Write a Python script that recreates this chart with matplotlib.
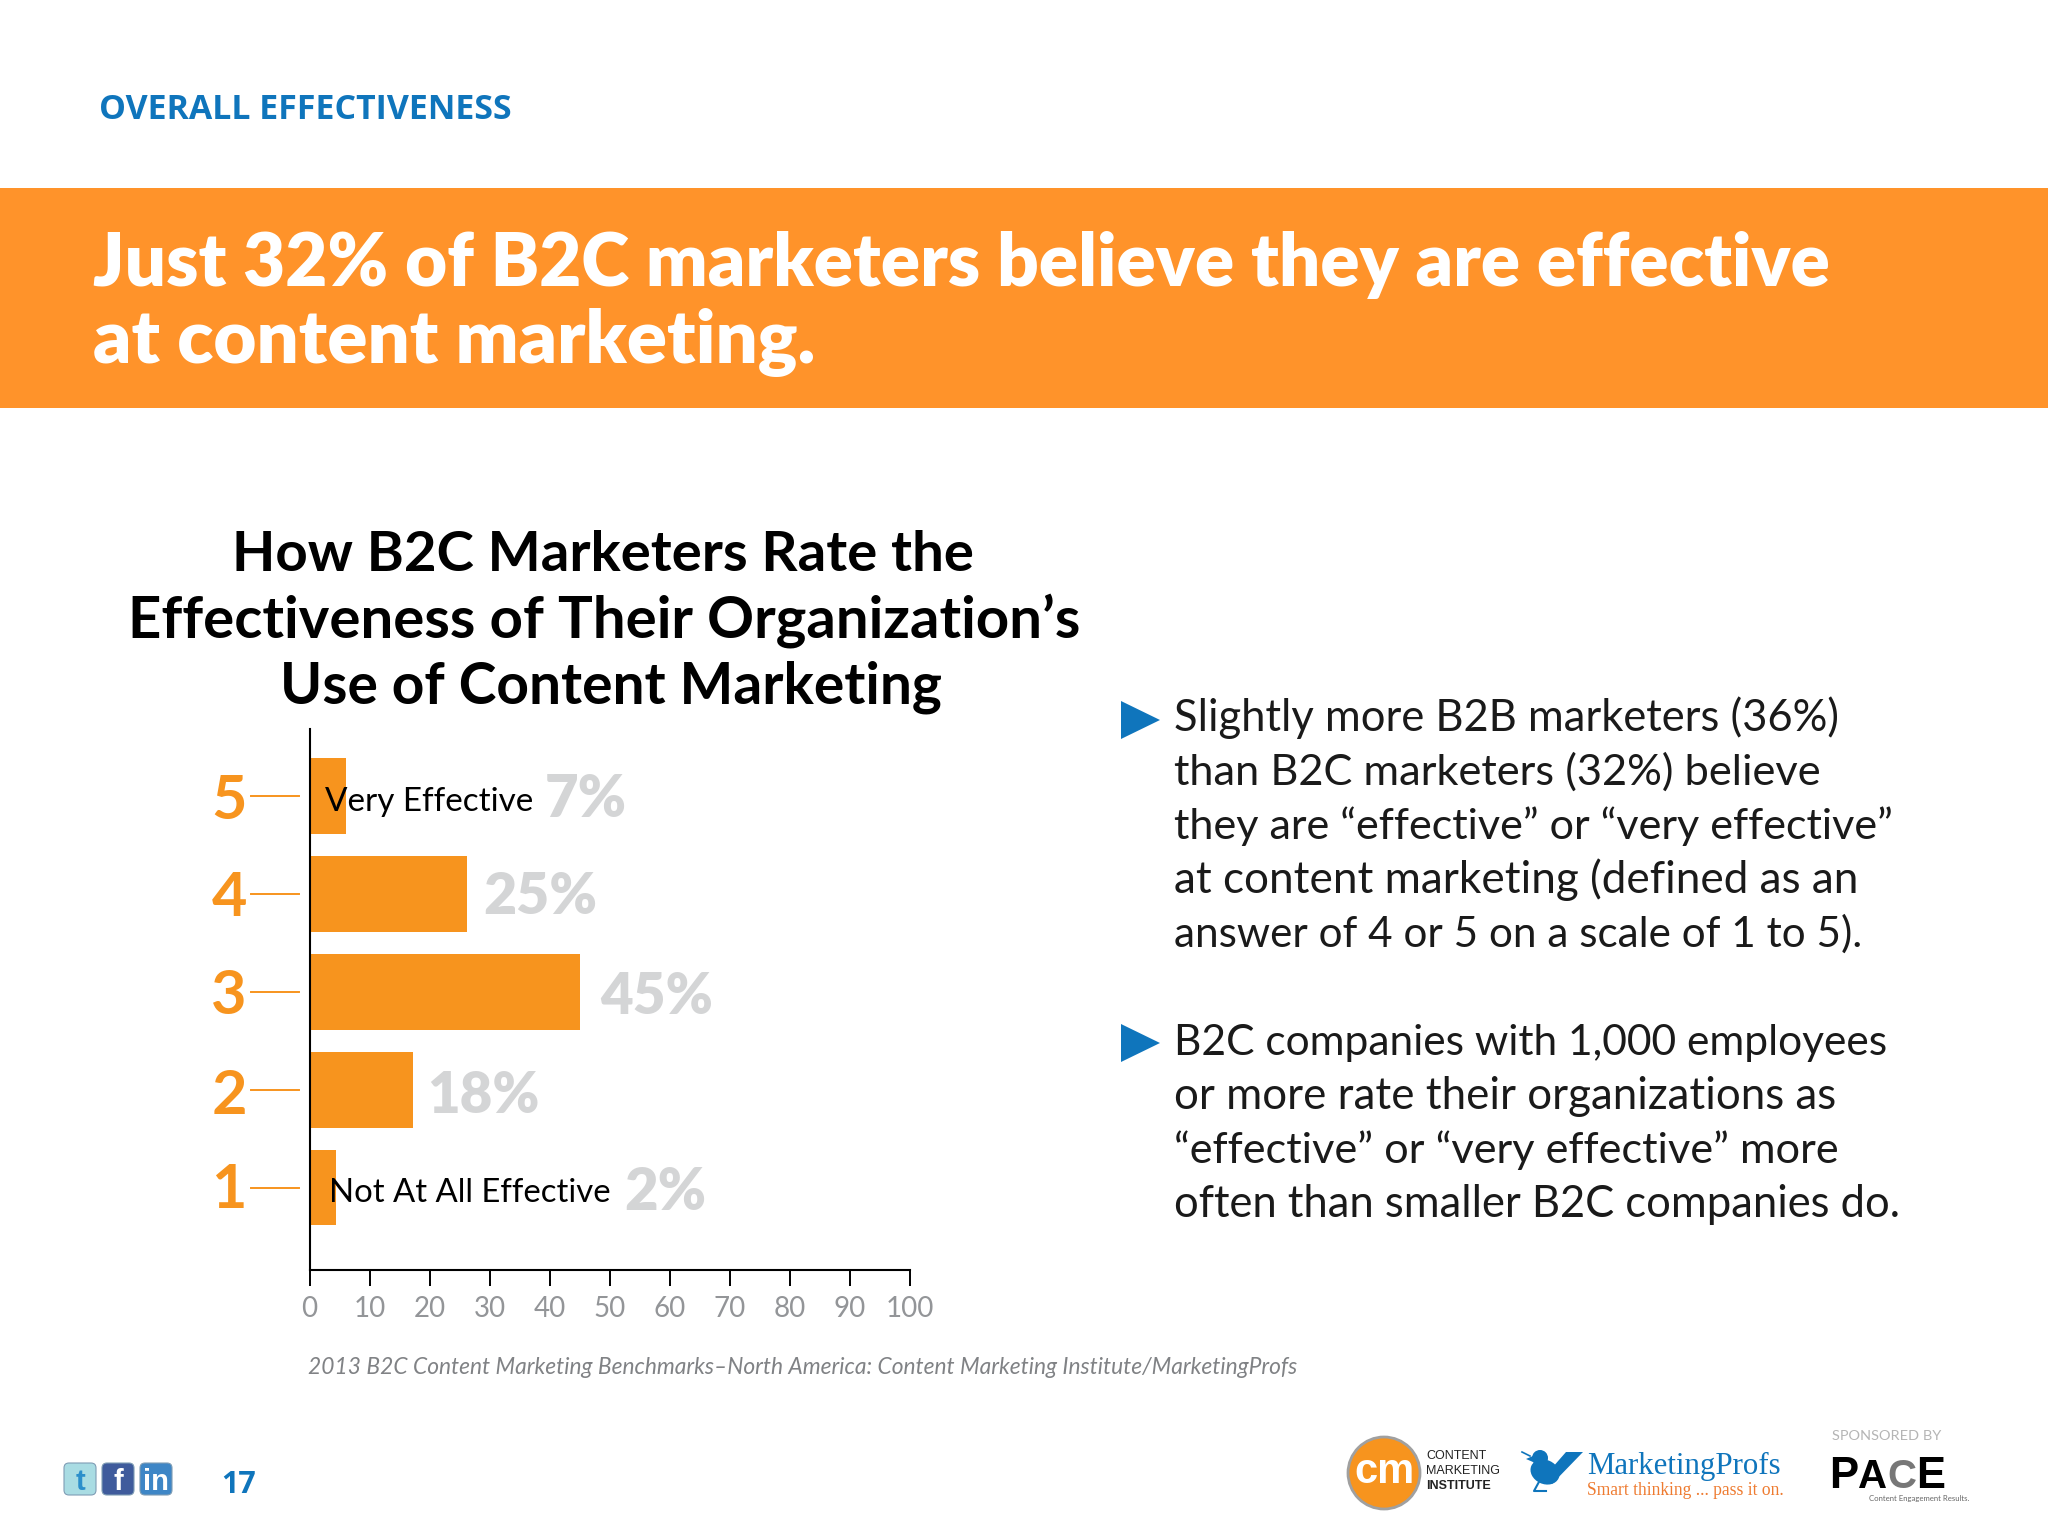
import matplotlib

matplotlib.use("Agg")
import matplotlib.pyplot as plt
from matplotlib.patches import Circle, Ellipse, FancyBboxPatch, Polygon, Rectangle

# chart values
ratings = [5, 4, 3, 2, 1]
bar_lengths = [6, 26.3, 45, 17.2, 4.4]  # as drawn, they don't quite follow the labels
percent_labels = ["7%", "25%", "45%", "18%", "2%"]
x_ticks = [0, 10, 20, 30, 40, 50, 60, 70, 80, 90, 100]

# text
section_label = "OVERALL EFFECTIVENESS"
headline = ["Just 32% of B2C marketers believe they are effective", "at content marketing."]
chart_title = [
    "How B2C Marketers Rate the",
    "Effectiveness of Their Organization’s",
    "Use of Content Marketing",
]
bullet_one = [
    "Slightly more B2B marketers (36%)",
    "than B2C marketers (32%) believe",
    "they are “effective” or “very effective”",
    "at content marketing (defined as an",
    "answer of 4 or 5 on a scale of 1 to 5).",
]
bullet_two = [
    "B2C companies with 1,000 employees",
    "or more rate their organizations as",
    "“effective” or “very effective” more",
    "often than smaller B2C companies do.",
]
source = "2013 B2C Content Marketing Benchmarks–North America: Content Marketing Institute/MarketingProfs"

BLUE = "#0F75BC"
ORANGE = "#F7941E"
BANNER = "#FF932A"
PALE = "#D4D5D6"
TICK_GREY = "#939598"
SANS = "Lato"

W, H = 2048, 1536
fig = plt.figure(figsize=(W / 100, H / 100), dpi=100, facecolor="white")

# pixel overlay for everything around the chart
page = fig.add_axes([0, 0, 1, 1], zorder=0)
page.set_xlim(0, W)
page.set_ylim(H, 0)
page.axis("off")

top = fig.add_axes([0, 0, 1, 1], zorder=5)
top.set_xlim(0, W)
top.set_ylim(H, 0)
top.axis("off")
top.patch.set_alpha(0)


def fit(x0, x1, y, s, size=30, family=SANS, ax=top, **kw):
    """Baseline text, font size scaled so it runs from x0 to x1."""
    t = ax.text(x0, y, s, fontsize=size, family=family, va="baseline", ha="left", **kw)
    ext = t.get_window_extent(fig.canvas.get_renderer())
    t.set_fontsize(size * (x1 - x0) / ext.width)
    return t


page.add_patch(Rectangle((0, 188), W, 219.5, color=BANNER, lw=0))

fit(99, 512, 119, section_label, color=BLUE, weight="bold", family="Open Sans")
fit(93, 1829, 286, headline[0], color="white", weight="heavy")
fit(93, 814, 363, headline[1], color="white", weight="heavy")

fit(232.5, 974, 571, chart_title[0], color="black", weight="bold")
fit(128, 1079, 638, chart_title[1], color="black", weight="bold")
fit(279.5, 940, 704, chart_title[2], color="black", weight="bold")

# bar chart
ax = fig.add_axes([309.5 / W, (H - 1269.5) / H, 600 / W, 540.5 / H], zorder=2)
ax.patch.set_alpha(0)
ax.barh(ratings, bar_lengths, height=0.775, color=ORANGE, lw=0)
ax.set_xlim(0, 100)
ax.set_ylim(0.162, 5.689)
ax.set_yticks([])
ax.set_xticks(x_ticks)
ax.set_xticklabels(x_ticks, family=SANS, fontsize=20, color=TICK_GREY)
ax.tick_params(axis="x", length=11.5, width=1.4, color="black", pad=7.5)
for side in ["top", "right"]:
    ax.spines[side].set_visible(False)
for side in ["left", "bottom"]:
    ax.spines[side].set_linewidth(1.5)

# rating numerals and their leader lines
numeral_base = [819, 916, 1014, 1114, 1208]
for r, base in zip(ratings, numeral_base):
    y = 1187 - (r - 1) * 98
    top.plot([251, 299], [y + 1, y + 1], color=ORANGE, lw=1.4)
    top.text(229, base, str(r), fontsize=44, family=SANS, weight="bold", color=ORANGE,
             ha="center", va="baseline")

# value labels, left edges and baselines differ because of the captions
pct_x = [(545, 627), (483, 597), (600, 713), (427, 539), (624, 706)]
pct_base = [817, 914, 1014, 1113, 1210]
for label, (x0, x1), base in zip(percent_labels, pct_x, pct_base):
    fit(x0, x1, base, label, color=PALE, weight="heavy")

fit(325, 533, 811, "Very Effective", color="black")
fit(329, 610, 1202, "Not At All Effective", color="black")
fit(308, 1297, 1374, source, color="#808285", style="italic")

# bullets
for tip_y in [720, 1043]:
    top.add_patch(Polygon([(1121, tip_y - 19), (1121, tip_y + 19), (1160, tip_y)], color=BLUE, lw=0))
for line, x1, base in zip(bullet_one, [1839, 1820, 1894, 1857, 1861], [731, 785, 839, 893, 947]):
    fit(1174, x1, base, line, color="#1A1A1A")
for line, x1, base in zip(bullet_two, [1887, 1834, 1839, 1899], [1055, 1109, 1163, 1217]):
    fit(1174, x1, base, line, color="#1A1A1A")

# social icons and page number
icons = [(64, "#A9DCE3", "t", "#2C8FCB"), (102, "#3F5B9C", "f", "white"), (140, "#3E86C6", "in", "white")]
for x, bg, glyph, fg in icons:
    top.add_patch(FancyBboxPatch((x + 3, 1466), 26, 26, boxstyle="round,pad=3,rounding_size=5",
                                 fc=bg, ec="#7F9DB5", lw=0.8))
    top.text(x + 16, 1490, glyph, fontsize=21, weight="bold", color=fg, ha="center", va="baseline",
             family="Liberation Sans")
fit(221, 256, 1493, "17", color=BLUE, weight="bold", family="Open Sans")

# logos, roughly
top.add_patch(Circle((1384, 1473), 36, fc=ORANGE, ec="#A0A0A0", lw=2))
top.text(1384, 1483, "cm", fontsize=30, weight="bold", color="white", ha="center", va="baseline",
         family="Liberation Sans")
for s, y, wt in [("CONTENT", 1459, "normal"), ("MARKETING", 1474, "normal"), ("INSTITUTE", 1489, "bold")]:
    top.text(1426, y, s, fontsize=9, color="#222222", weight=wt, family="Liberation Sans", va="baseline")

top.add_patch(Ellipse((1545, 1472), 30, 24, angle=25, color=BLUE, lw=0))
top.add_patch(Circle((1540, 1458), 8, color=BLUE, lw=0))
top.add_patch(Polygon([(1552, 1484), (1583, 1452), (1566, 1452), (1552, 1468)], color=BLUE, lw=0))
top.add_patch(Polygon([(1533, 1456), (1526, 1459), (1533, 1462)], color=BLUE, lw=0))
top.plot([1540, 1534, 1546], [1480, 1491, 1491], color=BLUE, lw=1.5)
top.plot([1522, 1530], [1452, 1456], color=BLUE, lw=1.2)
fit(1587, 1781, 1474, "MarketingProfs", color=BLUE, family="Liberation Serif")
fit(1587, 1784, 1495, "Smart thinking ... pass it on.", color="#EE7B30", family="Liberation Serif")

fit(1832, 1941, 1440, "SPONSORED BY", color="#B5B5B5")
for x0, s, col in [(1829, "P", "black"), (1858, "A", "black"), (1887, "C", "#777777"), (1916, "E", "black")]:
    fit(x0, x0 + 29, 1488, s, color=col, weight="bold", family="Liberation Sans")
fit(1869, 1970, 1501, "Content Engagement Results.", color="#666666")

fig.savefig("out.png", dpi=100)
